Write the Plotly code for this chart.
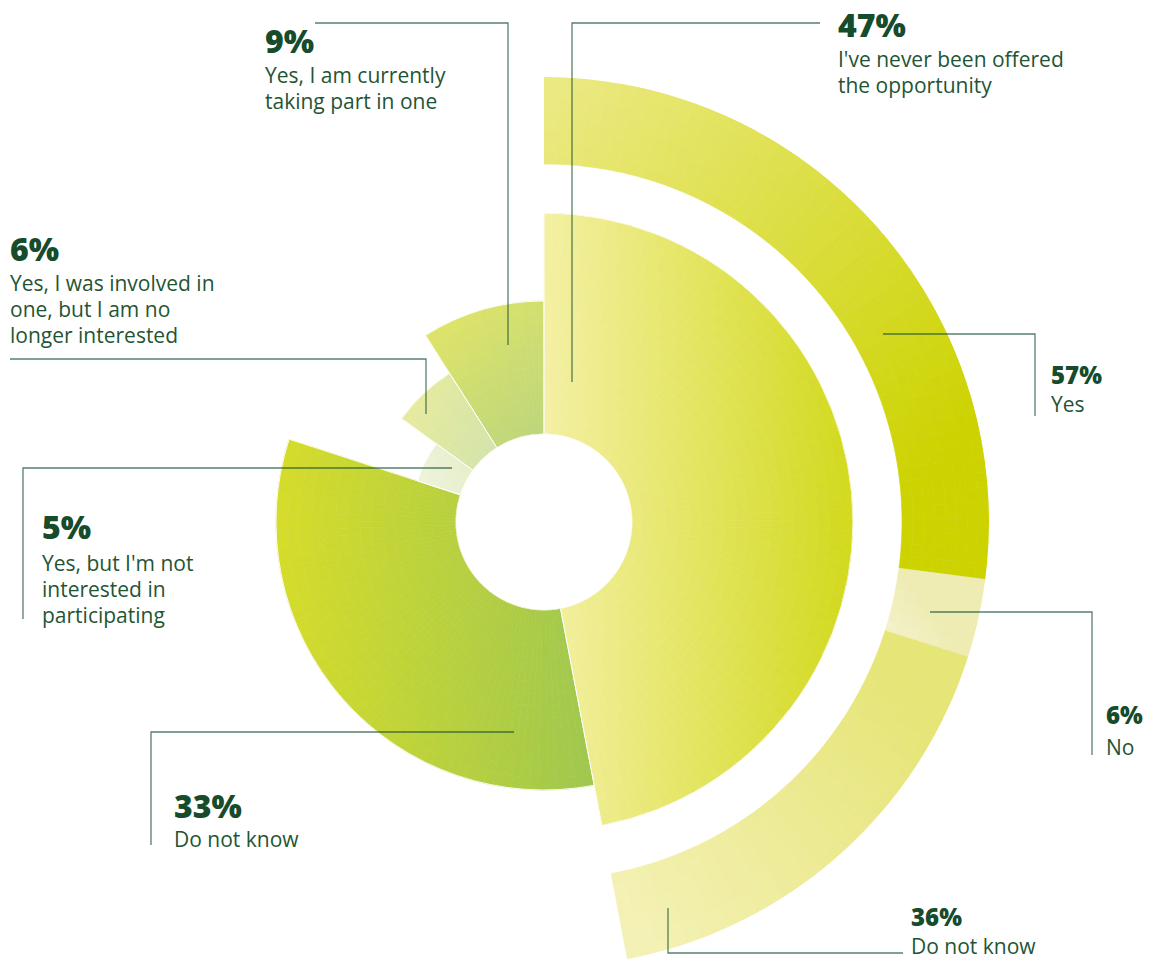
import math
import plotly.graph_objects as go

# ---------------- data ----------------
inner_labels = [
    "I've never been offered<br>the opportunity",
    "Do not know",
    "Yes, but I'm not<br>interested in<br>participating",
    "Yes, I was involved in<br>one, but I am no<br>longer interested",
    "Yes, I am currently<br>taking part in one",
]
inner_values = [47, 33, 5, 6, 9]

outer_labels = ["Yes", "No", "Do not know"]
outer_values = [57, 6, 36]   # breakdown of the 47 % "never been offered" group

# ---------------- style / layout constants ----------------
W, H = 1151, 960
CX, CY = 544, 522            # centre of the chart in px
HOLE = 88                    # hole radius px
R_IN = 309                   # largest inner radius px
inner_reach = [309, 268, 133, 176, 221]   # outer radius of each inner slice (px)
RING_IN, RING_OUT = 358, 445

# linear gradients (start point, end point, start colour, end colour) in px
inner_grad = [
    ((544, 0), (854, 0), "#f4f0a4", "#d2d91c"),
    ((276, 0), (596, 0), "#d6dc2a", "#9fc74f"),
    ((420, 470), (465, 455), "#eef3da", "#e6efcb"),
    ((400, 410), (495, 445), "#e9eb9c", "#d3e4ab"),
    ((440, 315), (540, 430), "#e0e468", "#bdd67a"),
]
outer_grad = [
    ((560, 90), (950, 450), "#ebe982", "#ccd300"),
    ((955, 640), (875, 700), "#eeecb2", "#faf8e2"),
    ((915, 715), (640, 935), "#e6e578", "#f4f1b5"),
]

DARK = "#164b2b"
TEXT = "#1f5535"
LINE = "rgba(22,80,48,0.72)"
FONT = "Open Sans"

STEP_DEG = 2.0
STEP_PX = 12.0


def hex2rgb(h):
    h = h.lstrip("#")
    return [int(h[i:i + 2], 16) for i in (0, 2, 4)]


def grad_color(x, y, g):
    (x0, y0), (x1, y1), c0, c1 = g
    dx, dy = x1 - x0, y1 - y0
    t = ((x - x0) * dx + (y - y0) * dy) / (dx * dx + dy * dy)
    t = max(0.0, min(1.0, t))
    a, b = hex2rgb(c0), hex2rgb(c1)
    c = [round(a[i] + (b[i] - a[i]) * t) for i in range(3)]
    return "#%02x%02x%02x" % tuple(c)


def shade_cells(th0, th1, rp0, rp1, g, offset):
    """Split one wedge into small cells coloured by a linear gradient."""
    na = max(1, int(math.ceil((th1 - th0) / STEP_DEG)))
    nr = max(1, int(math.ceil((rp1 - rp0) / STEP_PX)))
    dth = (th1 - th0) / na
    drp = (rp1 - rp0) / nr
    T, Wd, B, R, C = [], [], [], [], []
    for i in range(na):
        tm = th0 + (i + 0.5) * dth
        for j in range(nr):
            rm = rp0 + (j + 0.5) * drp
            x = CX + rm * math.sin(math.radians(tm))
            y = CY - rm * math.cos(math.radians(tm))
            T.append(tm)
            Wd.append(dth)
            B.append(rp0 + j * drp - offset)
            R.append(drp)
            C.append(grad_color(x, y, g))
    return T, Wd, B, R, C


fig = go.Figure()

# ---- inner slices ----
thetas, widths = [], []
start = 0.0
cells = [[], [], [], [], []]
for k, v in enumerate(inner_values):
    w = v * 3.6
    thetas.append(start + w / 2)
    widths.append(w)
    res = shade_cells(start, start + w, HOLE, inner_reach[k], inner_grad[k], HOLE)
    for a, b in zip(cells, res):
        a.extend(b)
    start += w

fig.add_trace(go.Barpolar(
    theta=cells[0], width=cells[1], base=cells[2], r=cells[3],
    marker=dict(color=cells[4], line=dict(color=cells[4], width=0.6)),
    hoverinfo="skip", subplot="polar", showlegend=False,
))
fig.add_trace(go.Barpolar(
    r=[rr - HOLE for rr in inner_reach],
    theta=thetas,
    width=widths,
    marker=dict(color="rgba(0,0,0,0)", line=dict(color="white", width=0.9)),
    customdata=inner_values,
    hovertext=[l.replace("<br>", " ") for l in inner_labels],
    hovertemplate="%{hovertext}: %{customdata}%<extra></extra>",
    subplot="polar",
    showlegend=False,
))

# ---- outer ring (breakdown of first inner slice) ----
span = inner_values[0] * 3.6
tot = sum(outer_values)
o_thetas, o_widths = [], []
start = 0.0
ocells = [[], [], [], [], []]
for k, v in enumerate(outer_values):
    w = v / tot * span
    o_thetas.append(start + w / 2)
    o_widths.append(w)
    res = shade_cells(start, start + w, RING_IN, RING_OUT, outer_grad[k], 0)
    for a, b in zip(ocells, res):
        a.extend(b)
    start += w

fig.add_trace(go.Barpolar(
    theta=ocells[0], width=ocells[1], base=ocells[2], r=ocells[3],
    marker=dict(color=ocells[4], line=dict(color=ocells[4], width=0.6)),
    hoverinfo="skip", subplot="polar2", showlegend=False,
))
fig.add_trace(go.Barpolar(
    r=[RING_OUT - RING_IN] * len(outer_values),
    base=[RING_IN] * len(outer_values),
    theta=o_thetas,
    width=o_widths,
    marker=dict(color="rgba(0,0,0,0)", line=dict(width=0)),
    customdata=outer_values,
    hovertext=outer_labels,
    hovertemplate="%{hovertext}: %{customdata}%<extra></extra>",
    subplot="polar2",
    showlegend=False,
))

axis_off = dict(showline=False, showgrid=False, showticklabels=False, ticks="")

# polar 1: full circle
d1x = [(CX - R_IN) / W, (CX + R_IN) / W]
d1y = [(H - CY - R_IN) / H, (H - CY + R_IN) / H]

# polar 2: sector covering the ring only
lower = 90 - span - 0.1
ymin_frac = math.sin(math.radians(lower))      # negative
top_px = CY - RING_OUT
bot_px = CY - RING_OUT * ymin_frac
d2x = [CX / W, (CX + RING_OUT) / W]
d2y = [(H - bot_px) / H, (H - top_px) / H]

fig.update_layout(
    width=W, height=H,
    margin=dict(l=0, r=0, t=0, b=0),
    paper_bgcolor="white",
    plot_bgcolor="white",
    font=dict(family=FONT, color=TEXT),
    polar=dict(
        domain=dict(x=d1x, y=d1y),
        hole=HOLE / R_IN,
        bgcolor="rgba(0,0,0,0)",
        radialaxis=dict(range=[0, R_IN - HOLE], **axis_off),
        angularaxis=dict(rotation=90, direction="clockwise", **axis_off),
    ),
    polar2=dict(
        domain=dict(x=d2x, y=d2y),
        sector=[lower, 90],
        hole=0,
        bgcolor="rgba(0,0,0,0)",
        radialaxis=dict(range=[0, RING_OUT], **axis_off),
        angularaxis=dict(rotation=90, direction="clockwise", **axis_off),
    ),
)


def px(x, y):
    return x / W, 1 - y / H


# ---- leader lines (decoration) ----
leaders = [
    [(315, 23), (508, 23), (508, 345)],        # 9 %
    [(820, 23), (572, 23), (572, 382)],        # 47 %
    [(10, 359), (426, 359), (426, 414)],       # 6 %
    [(452, 468), (23, 468), (23, 619)],        # 5 %
    [(514, 732), (151, 732), (151, 845)],      # 33 %
    [(883, 334), (1035, 334), (1035, 416)],    # 57 % Yes
    [(930, 612), (1092, 612), (1092, 755)],    # 6 % No
    [(668, 908), (668, 953), (903, 953)],      # 36 % Do not know
]
for pts in leaders:
    path = ""
    for i, (x, y) in enumerate(pts):
        fx, fy = px(x, y)
        path += ("M" if i == 0 else "L") + f"{fx:.5f},{fy:.5f} "
    fig.add_shape(type="path", path=path.strip(), xref="paper", yref="paper",
                  line=dict(color=LINE, width=1.3), layer="above")

# ---- labels ----
# (value text, description, x, pct baseline, pct size, first desc baseline)
LINE_H = 26
DESC_SIZE = 21
label_pos = [
    (f"{inner_values[4]}%", inner_labels[4], 265, 52, 32, 83),
    (f"{inner_values[0]}%", inner_labels[0], 838, 36, 32, 67),
    (f"{inner_values[3]}%", inner_labels[3], 10, 260, 32, 291),
    (f"{inner_values[2]}%", inner_labels[2], 42, 538, 32, 571),
    (f"{inner_values[1]}%", inner_labels[1], 174, 817, 32, 847),
    (f"{outer_values[0]}%", outer_labels[0], 1051, 383, 24, 412),
    (f"{outer_values[1]}%", outer_labels[1], 1106, 723, 24, 755),
    (f"{outer_values[2]}%", outer_labels[2], 911, 925, 24, 954),
]


def add_text(txt, x, baseline, size, color, weight):
    fx, fy = px(x - 1, baseline - 0.36 * size)
    fig.add_annotation(text=txt, x=fx, y=fy, xref="paper", yref="paper",
                       xanchor="left", yanchor="middle", showarrow=False,
                       font=dict(family=FONT, size=size, color=color, weight=weight),
                       borderpad=0)


for pct, desc, x, pb, ps, db in label_pos:
    add_text(pct, x, pb, ps, DARK, 800)
    for i, line in enumerate(desc.split("<br>")):
        add_text(line, x, db + i * LINE_H, DESC_SIZE, TEXT, 400)

fig.write_html("out.html")
